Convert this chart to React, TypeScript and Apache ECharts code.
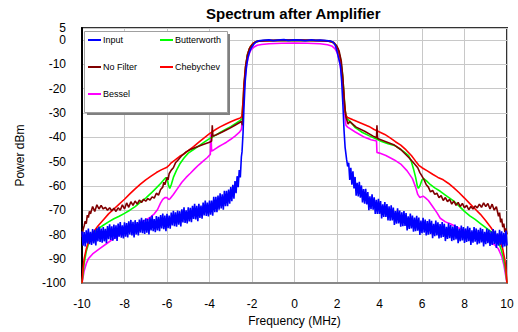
import React, { useEffect, useRef } from "react";
import * as echarts from "echarts";

const titleText = "Spectrum after Amplifier";
const xName = "Frequency (MHz)";
const yName = "Power dBm";
const xMin = -10;
const xMax = 10;
const xStep = 2;
const yMin = -100;
const yMax = 5;
const yStep = 10;

const legendColumn1 = ["Input", "No Filter", "Bessel"];
const legendColumn2 = ["Butterworth", "Chebychev"];

// Input (blue) - left skirt, noisy
const inputLeft: number[][] = [
  [-10, -78.7], [-9.95, -84.6], [-9.9, -79], [-9.85, -84.9], [-9.8, -78.3], [-9.75, -83.7], [-9.7, -77.6], [-9.65, -84], [-9.6, -78.9], [-9.55, -84.3],
  [-9.5, -77.8], [-9.45, -83.7], [-9.4, -78.1], [-9.35, -84.5], [-9.3, -77.4], [-9.25, -82.8], [-9.2, -76.7], [-9.15, -83.1], [-9.1, -77.5], [-9.05, -83.4],
  [-9, -76.9], [-8.95, -82.8], [-8.9, -77.7], [-8.85, -83.6], [-8.8, -76.5], [-8.75, -81.9], [-8.7, -75.8], [-8.65, -82.2], [-8.6, -76.6], [-8.55, -82.5],
  [-8.5, -75.9], [-8.45, -81.8], [-8.4, -76.2], [-8.35, -82.6], [-8.3, -75.5], [-8.25, -80.9], [-8.2, -74.9], [-8.15, -81.3], [-8.1, -76.2], [-8.05, -81.6],
  [-8, -75], [-7.95, -80.9], [-7.9, -75.3], [-7.85, -81.2], [-7.8, -74.6], [-7.75, -80], [-7.7, -74], [-7.65, -80.4], [-7.6, -74.8], [-7.55, -81.2],
  [-7.5, -74.1], [-7.45, -80], [-7.4, -74.9], [-7.35, -80.4], [-7.3, -73.8], [-7.25, -79.2], [-7.2, -73.1], [-7.15, -79.5], [-7.1, -73.9], [-7.05, -79.8],
  [-7, -73.3], [-6.95, -79.2], [-6.9, -73.6], [-6.85, -80], [-6.8, -72.9], [-6.75, -78.3], [-6.7, -72.2], [-6.65, -78.6], [-6.6, -73.6], [-6.55, -79],
  [-6.5, -72.4], [-6.45, -78.3], [-6.4, -72.7], [-6.35, -78.6], [-6.3, -72], [-6.25, -77.5], [-6.2, -71.4], [-6.15, -77.8], [-6.1, -72.2], [-6.05, -78.6],
  [-6, -71.5], [-5.95, -77.4], [-5.9, -72.2], [-5.85, -77.6], [-5.8, -71], [-5.75, -76.3], [-5.7, -70.2], [-5.65, -76.6], [-5.6, -70.9], [-5.55, -76.8],
  [-5.5, -70.1], [-5.45, -76], [-5.4, -70.4], [-5.35, -76.7], [-5.3, -69.6], [-5.25, -75], [-5.2, -68.8], [-5.15, -75.2], [-5.1, -70], [-5.05, -75.4],
  [-5, -68.8], [-4.95, -74.6], [-4.9, -69], [-4.85, -74.9], [-4.8, -68.2], [-4.75, -73.6], [-4.7, -67.4], [-4.65, -73.8], [-4.6, -68.2], [-4.55, -74.5],
  [-4.5, -67.4], [-4.45, -73.2], [-4.4, -68.1], [-4.35, -73.5], [-4.3, -66.8], [-4.25, -72.2], [-4.2, -66], [-4.15, -72.4], [-4.1, -66.8], [-4.05, -72.6],
  [-4, -66], [-3.95, -71.8], [-3.9, -66], [-3.85, -72.3], [-3.8, -64.5], [-3.75, -70.8], [-3.7, -64.5], [-3.65, -70.8], [-3.6, -64], [-3.55, -69.8],
  [-3.5, -63], [-3.45, -69.3], [-3.4, -63.5], [-3.35, -69.8], [-3.3, -62], [-3.25, -68.3], [-3.2, -62], [-3.15, -68.3], [-3.1, -61.5], [-3.05, -67.3],
  [-3, -60.5], [-2.95, -66.3], [-2.9, -59.5], [-2.85, -65.3], [-2.8, -58], [-2.75, -63], [-2.7, -56], [-2.65, -60.5], [-2.6, -53.5], [-2.55, -56.5],
  [-2.5, -48],
];

// Input (blue) - transition and passband
const inputPass: number[][] = [
  [-2.47, -46], [-2.42, -38], [-2.38, -28], [-2.32, -17], [-2.26, -11], [-2.2, -7.5], [-2.12, -5], [-2.05, -3.5], [-2, -2.8], [-1.9, -1.5],
  [-1.8, -0.7], [-1.7, -0.3], [-1.5, -0.1], [-1.2, 0.1], [-1, -0.2], [-0.8, 0], [-0.5, 0.2], [-0.3, -0.1], [0, 0.1], [0.3, 0],
  [0.5, -0.2], [0.8, 0.1], [1, -0.1], [1.2, 0], [1.5, -0.2], [1.7, -0.4], [1.8, -0.8], [1.9, -1.8], [1.95, -3], [2, -4.5],
  [2.08, -7.5], [2.16, -10.5], [2.22, -17], [2.28, -27], [2.33, -37], [2.38, -44], [2.45, -49],
];

// Input (blue) - right skirt, noisy
const inputRight: number[][] = [
  [2.5, -52], [2.55, -50.5], [2.6, -57.5], [2.65, -52.5], [2.7, -59.5], [2.75, -54], [2.8, -61], [2.85, -56.3], [2.9, -64], [2.95, -58.7],
  [3, -64.3], [3.05, -58.3], [3.1, -64.8], [3.15, -59.8], [3.2, -66.8], [3.25, -61.3], [3.3, -67.3], [3.35, -61.2], [3.4, -67.6], [3.45, -62.5],
  [3.5, -70], [3.55, -64.3], [3.6, -69.6], [3.65, -63.5], [3.7, -69.8], [3.75, -64.7], [3.8, -71.5], [3.85, -65.7], [3.9, -71.5], [3.95, -65.3],
  [4, -71.5], [4.05, -66.2], [4.1, -73.4], [4.15, -67.6], [4.2, -72.8], [4.25, -66.6], [4.3, -72.8], [4.35, -67.5], [4.4, -74.2], [4.45, -68.4],
  [4.5, -74.3], [4.55, -68], [4.6, -74.2], [4.65, -68.9], [4.7, -76.1], [4.75, -70.3], [4.8, -75.5], [4.85, -69.2], [4.9, -75.4], [4.95, -70.1],
  [5, -76.8], [5.05, -70.9], [5.1, -76.6], [5.15, -70.3], [5.2, -76.5], [5.25, -71.2], [5.3, -78.3], [5.35, -72.5], [5.4, -77.7], [5.45, -71.4],
  [5.5, -77.5], [5.55, -72.2], [5.6, -78.8], [5.65, -73], [5.7, -78.6], [5.75, -72.3], [5.8, -78.4], [5.85, -73], [5.9, -80.2], [5.95, -74.3],
  [6, -79.5], [6.05, -73.1], [6.1, -79.2], [6.15, -73.8], [6.2, -80.4], [6.25, -74.5], [6.3, -80.1], [6.35, -73.7], [6.4, -79.8], [6.45, -74.4],
  [6.5, -81.5], [6.55, -75.6], [6.6, -80.7], [6.65, -74.3], [6.7, -80.4], [6.75, -75], [6.8, -81.6], [6.85, -75.7], [6.9, -81.3], [6.95, -74.9],
  [7, -81], [7.05, -75.6], [7.1, -82.7], [7.15, -76.8], [7.2, -81.8], [7.25, -75.4], [7.3, -81.5], [7.35, -76.1], [7.4, -82.7], [7.45, -76.7],
  [7.5, -82.3], [7.55, -75.9], [7.6, -82], [7.65, -76.5], [7.7, -83.6], [7.75, -77.7], [7.8, -82.8], [7.85, -76.3], [7.9, -82.4], [7.95, -76.9],
  [8, -83.5], [8.05, -77.5], [8.1, -83.1], [8.15, -76.6], [8.2, -82.7], [8.25, -77.2], [8.3, -84.3], [8.35, -78.3], [8.4, -83.4], [8.45, -76.9],
  [8.5, -83], [8.55, -77.5], [8.6, -84.1], [8.65, -78.1], [8.7, -83.7], [8.75, -77.2], [8.8, -83.3], [8.85, -77.8], [8.9, -84.9], [8.95, -78.9],
  [9, -84], [9.05, -77.5], [9.1, -83.6], [9.15, -78.1], [9.2, -84.7], [9.25, -78.7], [9.3, -84.3], [9.35, -77.8], [9.4, -83.9], [9.45, -78.4],
  [9.5, -85.5], [9.55, -79.5], [9.6, -84.6], [9.65, -78.1], [9.7, -84.2], [9.75, -78.7], [9.8, -85.3], [9.85, -79.3], [9.9, -84.9], [9.95, -78.4],
  [10, -84.5],
];

// No Filter (dark red)
const noFilterData: number[][] = [
  [-10, -81], [-9.95, -78], [-9.9, -76.5], [-9.85, -74.5], [-9.8, -75.5], [-9.75, -72], [-9.7, -73], [-9.65, -70.5], [-9.6, -71.5], [-9.5, -68.5],
  [-9.4, -70.5], [-9.3, -67.8], [-9.2, -69.5], [-9.1, -68], [-9, -69.5], [-8.9, -68.8], [-8.8, -70], [-8.7, -69], [-8.6, -70.2], [-8.5, -69.2],
  [-8.4, -70.5], [-8.3, -69], [-8.2, -70], [-8.1, -67.8], [-8, -69.5], [-7.9, -67], [-7.8, -68.8], [-7.7, -66.5], [-7.6, -68], [-7.5, -66.2],
  [-7.4, -67.5], [-7.3, -65.8], [-7.2, -66.8], [-7.1, -65.5], [-7, -66.3], [-6.9, -65.2], [-6.8, -65.8], [-6.7, -64.5], [-6.6, -65], [-6.5, -63],
  [-6.4, -63.8], [-6.3, -61.5], [-6.2, -60.5], [-6.15, -58.5], [-6.1, -59.5], [-6, -56.5], [-5.95, -57.5], [-5.9, -55], [-5.8, -53.5], [-5.7, -52.5],
  [-5.6, -50.5], [-5.5, -49.5], [-5.3, -47.5], [-5.1, -46], [-4.9, -45], [-4.6, -44], [-4.3, -43], [-4, -42], [-3.9, -41.5], [-3.87, -35],
  [-3.84, -39.5], [-3.7, -39], [-3.4, -37.8], [-3.1, -36.5], [-2.8, -35], [-2.6, -34], [-2.5, -33.5], [-2.45, -35], [-2.41, -28], [-2.36, -18],
  [-2.3, -11], [-2.22, -6.5], [-2.12, -3.5], [-2, -2], [-1.85, -0.8], [-1.7, -0.4], [-1.4, -0.2], [-0.7, -0.1], [0, 0], [0.7, -0.1],
  [1.4, -0.2], [1.7, -0.5], [1.85, -1], [2, -2.5], [2.1, -4.5], [2.2, -8.5], [2.28, -16], [2.35, -26], [2.42, -31.5], [2.52, -34.5],
  [2.6, -33.5], [2.9, -35.8], [3.3, -37.5], [3.7, -39.5], [3.86, -40.2], [3.88, -35], [3.91, -40.5], [4.3, -41.8], [4.7, -43.2], [5, -45],
  [5.4, -48.5], [5.6, -50.5], [5.8, -52.5], [5.9, -54.5], [6, -56], [6.1, -57.5], [6.2, -59.5], [6.3, -60.5], [6.4, -62.5], [6.5, -61.8],
  [6.6, -63.5], [6.7, -63], [6.8, -64.8], [6.9, -64], [7, -66], [7.1, -64.8], [7.2, -66.5], [7.3, -65.5], [7.4, -67.5], [7.5, -66.2],
  [7.6, -68], [7.7, -66.8], [7.8, -68.5], [7.9, -67.2], [8, -69], [8.1, -68], [8.2, -69.8], [8.3, -68.5], [8.4, -69.5], [8.5, -68.2],
  [8.6, -69], [8.7, -67.5], [8.8, -68.8], [8.9, -67], [9, -68.5], [9.1, -67.2], [9.2, -69.5], [9.3, -67.5], [9.4, -70], [9.5, -68.5],
  [9.6, -72.5], [9.65, -71], [9.7, -75], [9.75, -73.5], [9.8, -77], [9.85, -75.5], [9.9, -79], [9.95, -77.5], [10, -80],
];

// Chebychev (red)
const chebychevData: number[][] = [
  [-10, -100], [-9.95, -94], [-9.9, -90], [-9.8, -86], [-9.7, -83], [-9.5, -79.5], [-9.25, -76.5], [-9, -74], [-8.75, -71.5], [-8.5, -69.5],
  [-8.25, -67.5], [-8, -65.5], [-7.75, -63.3], [-7.5, -61.2], [-7.25, -59.3], [-7, -57.5], [-6.75, -56], [-6.5, -54.5], [-6.25, -53.3], [-6, -52.3],
  [-5.9, -51.5], [-5.8, -50.5], [-5.6, -49.2], [-5.4, -47.8], [-5.2, -46.8], [-5, -45.5], [-4.75, -43.8], [-4.5, -42], [-4.25, -40.2], [-4, -38.5],
  [-3.75, -37], [-3.5, -35.7], [-3.25, -34.6], [-3, -33.6], [-2.75, -32.7], [-2.55, -32], [-2.48, -31.5], [-2.43, -26], [-2.38, -18], [-2.3, -10.5],
  [-2.2, -5.5], [-2.1, -3], [-1.95, -1.3], [-1.8, -0.6], [-1.6, -0.3], [-1.2, -0.2], [-0.6, -0.1], [0, 0], [0.6, -0.1], [1.2, -0.2],
  [1.6, -0.4], [1.8, -0.9], [1.95, -2.2], [2.05, -4], [2.15, -7.5], [2.25, -14], [2.32, -22], [2.38, -29], [2.42, -31], [2.5, -31.8],
  [2.75, -32.8], [3, -33.7], [3.25, -34.6], [3.5, -35.5], [3.75, -36.8], [4, -37.8], [4.25, -38.8], [4.5, -40.2], [4.75, -41.8], [5, -43.2],
  [5.25, -45.2], [5.5, -47.5], [5.7, -49.8], [5.85, -51.5], [6, -52.5], [6.25, -53.8], [6.5, -55.2], [6.75, -56.5], [7, -57.5], [7.25, -59],
  [7.5, -60.8], [7.75, -62.8], [8, -65], [8.25, -67.3], [8.5, -69.5], [8.75, -71.7], [9, -74.3], [9.25, -77.2], [9.5, -80.5], [9.7, -83.5],
  [9.8, -86], [9.9, -90.5], [9.95, -94.5], [10, -100],
];

// Butterworth (green)
const butterworthData: number[][] = [
  [-10, -100], [-9.95, -96], [-9.9, -92], [-9.8, -87], [-9.7, -84], [-9.5, -80.5], [-9.3, -78], [-9, -76.2], [-8.75, -74.8], [-8.5, -73.5],
  [-8.25, -72.5], [-8, -71.3], [-7.75, -70], [-7.5, -68.5], [-7.25, -66.7], [-7, -65], [-6.75, -63], [-6.5, -60.8], [-6.3, -59], [-6.15, -57.5],
  [-6.05, -56.5], [-5.98, -57.5], [-5.92, -60], [-5.87, -61], [-5.8, -59.5], [-5.7, -56.5], [-5.55, -53.5], [-5.4, -51], [-5.2, -48.5], [-5, -46.5],
  [-4.75, -45], [-4.5, -43.5], [-4.25, -42], [-4, -40.5], [-3.75, -39.3], [-3.5, -38], [-3.25, -36.8], [-3, -35.6], [-2.75, -34.2], [-2.55, -33],
  [-2.47, -32.3], [-2.42, -25], [-2.36, -17], [-2.3, -11], [-2.22, -6], [-2.1, -3], [-1.95, -1.3], [-1.8, -0.6], [-1.6, -0.3], [-1, -0.2],
  [0, -0.1], [1, -0.2], [1.6, -0.4], [1.8, -0.9], [1.95, -2], [2.05, -3.8], [2.15, -7], [2.25, -13], [2.32, -21], [2.38, -28.5],
  [2.43, -32], [2.6, -33.3], [2.86, -36], [3.2, -38], [3.5, -39.3], [3.8, -40.5], [4.1, -41.7], [4.4, -42.6], [4.74, -43.5], [5, -45],
  [5.2, -46.3], [5.37, -47.5], [5.5, -50], [5.6, -53], [5.7, -56.5], [5.78, -60], [5.83, -61], [5.9, -60], [6, -57.5], [6.08, -57],
  [6.2, -57.8], [6.4, -59.5], [6.6, -60.8], [6.86, -62.2], [7.1, -63.8], [7.3, -65], [7.5, -66.3], [7.75, -68.3], [8, -70.5], [8.25, -72.3],
  [8.5, -73.8], [8.75, -75.5], [9, -77.2], [9.25, -78.8], [9.4, -80], [9.55, -82], [9.7, -85.5], [9.8, -88.5], [9.9, -93], [9.95, -96],
  [10, -100],
];

// Bessel (magenta)
const besselData: number[][] = [
  [-10, -100], [-9.95, -97.5], [-9.9, -95], [-9.8, -92], [-9.7, -90], [-9.5, -88], [-9.2, -86], [-8.8, -83.5], [-8.4, -81], [-8, -79],
  [-7.6, -77], [-7.4, -75.8], [-7.2, -74.8], [-7, -74], [-6.8, -73], [-6.6, -71.5], [-6.45, -69.8], [-6.3, -67], [-6.2, -65.5], [-6.1, -64.8],
  [-6, -64.8], [-5.92, -65.6], [-5.85, -65.2], [-5.7, -63.5], [-5.5, -61], [-5.3, -58.5], [-5.1, -56.5], [-4.9, -54.8], [-4.7, -53], [-4.5, -51.3],
  [-4.3, -49.8], [-4.1, -48.3], [-3.96, -47], [-3.93, -38.5], [-3.9, -45.6], [-3.8, -45.2], [-3.6, -44], [-3.4, -43], [-3.2, -42], [-3, -40.8],
  [-2.8, -39.5], [-2.6, -38], [-2.5, -36.8], [-2.45, -33], [-2.4, -25], [-2.33, -16], [-2.25, -10], [-2.15, -6], [-2.05, -4], [-1.9, -2.8],
  [-1.75, -2.1], [-1.55, -1.8], [-1.2, -1.5], [-0.6, -1.3], [0, -1.2], [0.6, -1.3], [1.2, -1.5], [1.55, -1.9], [1.75, -2.4], [1.9, -3.5],
  [2, -5], [2.1, -8], [2.2, -13], [2.28, -20], [2.35, -29], [2.42, -35], [2.5, -35.8], [2.86, -37.8], [3.3, -40], [3.6, -41],
  [3.86, -41.5], [3.88, -46.2], [4, -46.5], [4.3, -47.5], [4.7, -49.3], [5, -51], [5.3, -53.8], [5.55, -57], [5.7, -60.5], [5.8, -63.5],
  [5.9, -64.8], [5.98, -64.5], [6.05, -64.2], [6.15, -64.8], [6.3, -66], [6.5, -68.5], [6.7, -71], [6.86, -73.3], [7.1, -74.8], [7.33, -75.6],
  [7.7, -77.2], [8.1, -78.8], [8.5, -80.2], [8.9, -81.7], [9.2, -83], [9.45, -84.5], [9.6, -86], [9.75, -89], [9.85, -92.5], [9.95, -97.5],
  [10, -100],
];

const inputData = [...inputLeft, ...inputPass, ...inputRight];

const seriesDefs = [
  { name: "Bessel", color: "#ff00ff", data: besselData },
  { name: "Butterworth", color: "#00ff00", data: butterworthData },
  { name: "Chebychev", color: "#ff0000", data: chebychevData },
  { name: "No Filter", color: "#800000", data: noFilterData },
  { name: "Input", color: "#0000ff", data: inputData },
];

const FONT = "'Liberation Sans', Arial, sans-serif";

export default function App() {
  const ref = useRef<HTMLDivElement>(null);

  useEffect(() => {
    if (!ref.current) return;
    const chart = echarts.init(ref.current, undefined, { renderer: "svg" });
    const legendCommon = {
      orient: "vertical",
      icon: "rect",
      itemWidth: 13,
      itemHeight: 2,
      itemGap: 15,
      padding: 0,
      z: 200,
      selectedMode: false,
      textStyle: { fontFamily: FONT, fontSize: 9, color: "#000", lineHeight: 12, padding: [0, 0, 0, -3] },
    };
    chart.setOption({
      animation: false,
      backgroundColor: "#fff",
      title: {
        text: titleText,
        left: 206,
        top: 6,
        padding: 0,
        textStyle: { fontFamily: FONT, fontSize: 15, fontWeight: "bold", color: "#000" },
      },
      grid: {
        left: 82,
        right: 11,
        top: 28,
        bottom: 45,
        show: true,
        borderColor: "#333",
        borderWidth: 2,
        backgroundColor: "#fff",
      },
      legend: [
        { ...legendCommon, left: 88, top: 34, data: legendColumn1 },
        { ...legendCommon, left: 160, top: 34, data: legendColumn2 },
      ],
      graphic: [
        { type: "rect", z: 100, shape: { x: 87, y: 34, width: 143, height: 81 }, style: { fill: "#808080" } },
        { type: "rect", z: 101, shape: { x: 84.5, y: 31.5, width: 143, height: 81 }, style: { fill: "#fff", stroke: "#a0a0a0", lineWidth: 1 } },
      ],
      xAxis: {
        type: "value",
        min: xMin,
        max: xMax,
        interval: xStep,
        name: xName,
        nameLocation: "middle",
        nameGap: 30,
        nameTextStyle: { fontFamily: FONT, fontSize: 12, color: "#000" },
        axisLine: { show: true, onZero: false, lineStyle: { color: "#888", width: 2 } },
        axisTick: { show: false },
        axisLabel: { fontFamily: FONT, fontSize: 12, color: "#000", margin: 15 },
        splitLine: { show: true, lineStyle: { color: "#c8c8c8", width: 1 } },
      },
      yAxis: {
        type: "value",
        min: yMin,
        max: yMax,
        interval: yStep,
        name: yName,
        nameLocation: "middle",
        nameGap: 56,
        nameTextStyle: { fontFamily: FONT, fontSize: 12, color: "#000" },
        axisLine: { show: true, onZero: false, lineStyle: { color: "#000", width: 2 } },
        axisTick: { show: false },
        axisLabel: { fontFamily: FONT, fontSize: 12, lineHeight: 11, color: "#000", margin: 16, showMaxLabel: true, showMinLabel: true },
        splitLine: { show: true, lineStyle: { color: "#c8c8c8", width: 1 } },
      },
      series: seriesDefs.map((s) => ({
        name: s.name,
        type: "line",
        data: s.data,
        symbol: "none",
        color: s.color,
        itemStyle: { color: s.color },
        lineStyle: { color: s.color, width: 1.6 },
        emphasis: { disabled: true },
        silent: true,
      })),
    });
    return () => chart.dispose();
  }, []);

  return <div ref={ref} style={{ position: "fixed", left: 0, top: 0, width: 518, height: 332 }} />;
}
